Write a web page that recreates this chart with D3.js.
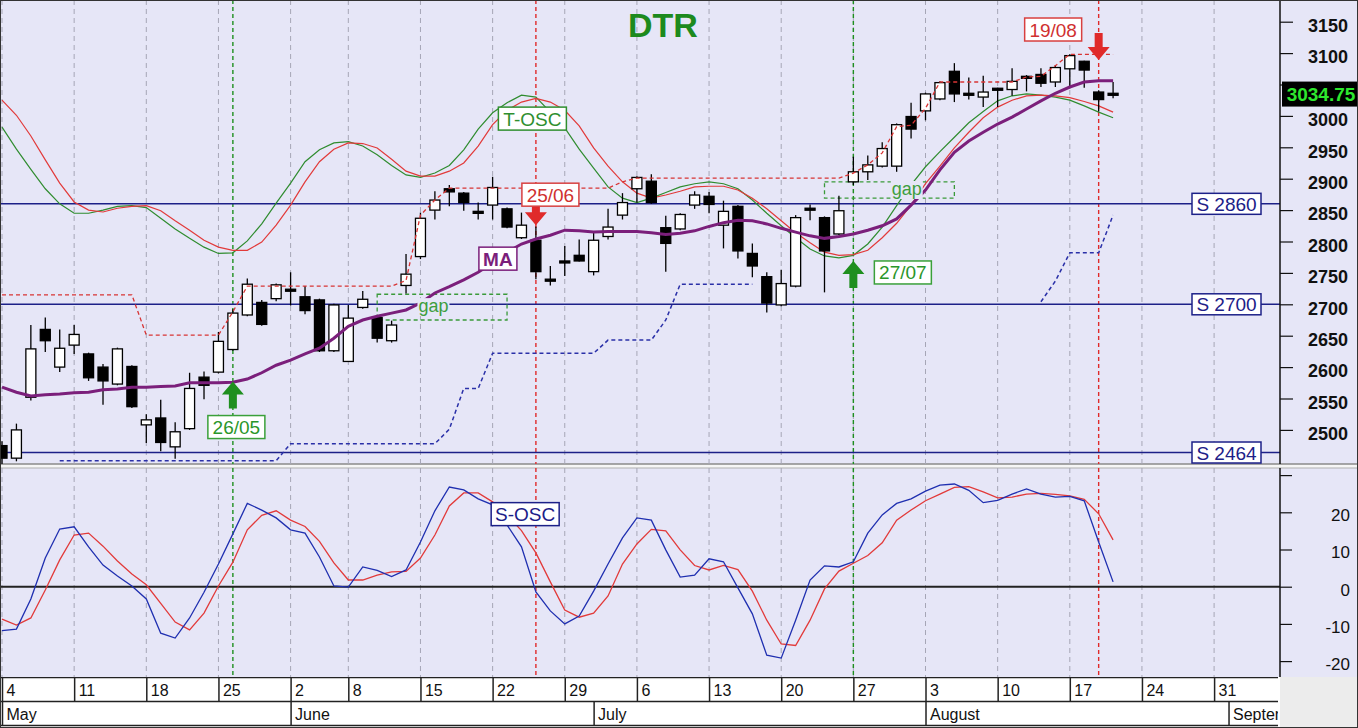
<!DOCTYPE html>
<html lang="en">
<head>
    <meta charset="UTF-8">
    <title>DTR</title>
    <script src="https://d3js.org/d3.v7.min.js" charset="utf-8"></script>
    <style>
        body { margin: 0; background: #ffffff; }
        svg { display: block; font-family: "Liberation Sans", Arial, sans-serif; }
    </style>
</head>
<body>
    <div id="vis"></div>
    <script>

        // daily candles, 4 May .. 20 Aug (trading days, index 0..77)
        var opens = [2475,2455,2552,2660,2600,2635,2621,2600,2573,2601,
                     2508,2519,2473,2502,2584,2592,2628,2683,2703,2709,
                     2724,2712,2707,2626,2609,2695,2679,2642,2730,2776,
                     2850,2884,2877,2848,2858,2852,2806,2802,2740,2769,
                     2778,2752,2808,2842,2884,2896,2822,2820,2858,2872,
                     2826,2856,2781,2744,2699,2729,2853,2838,2812,2895,
                     2911,2920,2920,2999,3008,3027,3071,3036,3030,3044,
                     3042,3063,3066,3054,3075,3087,3038,3036];
        var highs = [2482,2510,2667,2679,2660,2667,2623,2605,2631,2603,
                     2525,2548,2512,2591,2593,2656,2692,2741,2707,2733,
                     2751,2729,2709,2701,2699,2721,2681,2674,2780,2846,
                     2880,2890,2879,2862,2903,2854,2846,2824,2761,2793,
                     2803,2814,2852,2877,2904,2907,2841,2845,2880,2879,
                     2865,2858,2797,2751,2755,2842,2859,2840,2873,2935,
                     2937,2958,2988,3021,3037,3055,3084,3061,3064,3045,
                     3076,3065,3076,3081,3098,3088,3041,3054];
        var lows = [2440,2450,2547,2624,2592,2621,2578,2540,2571,2535,
                    2479,2466,2454,2500,2549,2590,2626,2681,2666,2705,
                    2698,2684,2624,2624,2609,2693,2639,2639,2717,2772,
                    2835,2856,2849,2835,2835,2821,2804,2740,2730,2745,
                    2768,2746,2803,2835,2862,2860,2752,2818,2852,2845,
                    2789,2773,2743,2687,2697,2727,2834,2719,2810,2890,
                    2898,2918,2911,2964,2993,3025,3022,3026,3014,3014,
                    3032,3039,3046,3046,3044,3045,3007,3028];
        var closes = [2455,2500,2629,2642,2630,2652,2583,2578,2629,2537,
                      2516,2480,2497,2566,2571,2641,2686,2732,2668,2731,
                      2722,2690,2626,2699,2678,2708,2646,2667,2748,2837,
                      2866,2879,2862,2846,2886,2823,2826,2752,2738,2767,
                      2769,2802,2823,2862,2902,2862,2797,2843,2874,2859,
                      2848,2785,2761,2702,2733,2838,2851,2785,2849,2911,
                      2922,2948,2986,2979,3035,3053,3035,3035,3038,3043,
                      3055,3062,3052,3077,3096,3073,3026,3034.75];

        // moving average (purple)
        var maValues = [2568,2560,2554,2556,2557,2559,2560,2564,2565,2568,
                        2568,2569,2570,2575,2575,2575,2576,2581,2591,2603,
                        2611,2621,2630,2646,2665,2675,2681,2686,2691,2702,
                        2718,2728,2739,2751,2766,2783,2796,2804,2810,2818,
                        2817,2815,2816,2816,2816,2814,2811,2813,2817,2824,
                        2830,2834,2833,2828,2821,2815,2809,2805,2808,2812,
                        2818,2825,2836,2858,2882,2914,2942,2960,2974,2987,
                        2998,3011,3024,3036,3046,3054,3056,3056];

        // T-OSC, fast (green) and slow (red)
        var toscFast = [2982,2947,2915,2884,2860,2845,2845,2850,2856,2857,
                        2854,2837,2820,2805,2791,2781,2782,2801,2828,2861,
                        2893,2927,2946,2957,2959,2952,2938,2921,2906,2902,
                        2909,2921,2946,2979,3005,3021,3033,3030,3006,2981,
                        2947,2917,2887,2869,2862,2869,2878,2887,2892,2895,
                        2892,2884,2866,2845,2825,2806,2788,2777,2774,2778,
                        2796,2823,2857,2890,2919,2943,2966,2989,3007,3024,
                        3032,3035,3033,3030,3025,3016,3006,2997];
        var toscSlow = [3025,3001,2968,2930,2893,2863,2850,2847,2853,2856,
                        2857,2849,2833,2818,2802,2791,2786,2786,2799,2826,
                        2858,2895,2927,2947,2957,2956,2949,2931,2912,2904,
                        2904,2912,2925,2952,2986,3009,3022,3028,3022,3009,
                        2984,2949,2920,2895,2877,2869,2874,2880,2887,2888,
                        2888,2882,2869,2852,2833,2814,2798,2783,2778,2779,
                        2786,2806,2829,2858,2892,2920,2949,2974,2997,3014,
                        3025,3032,3033,3032,3029,3023,3016,3006];

        // trailing stops: red above (resistance), blue below (support)
        var stopHigh = [2715,2715,2715,2715,2715,2715,2715,2715,2715,2715,
                        2651,2651,2651,2651,2651,2651,2688,2729,2729,2729,
                        2729,2729,2729,2729,2729,2729,2729,2729,2738,2842,
                        2866,2885,2885,2885,2885,2885,2885,2885,2885,2885,
                        2885,2885,2885,2895,2901,2901,2901,2901,2901,2901,
                        2901,2901,2901,2901,2901,2901,2901,2901,2901,2909,
                        2922,2941,2983,2985,3012,3054,3054,3054,3054,3054,
                        3054,3062,3063,3080,3098,3098,3098,3098];
        var stopLow = [null,null,null,null,2451,2451,2451,2451,2451,2451,
                       2451,2451,2451,2451,2451,2451,2451,2451,2451,2451,
                       2478,2478,2478,2478,2478,2478,2478,2478,2478,2478,
                       2478,2501,2566,2566,2622,2622,2622,2622,2622,2622,
                       2622,2622,2643,2643,2643,2643,2675,2732,2732,2732,
                       2732,2732,2732,null,null,null,null,null,null,null,
                       null,null,null,null,null,null,null,null,null,null,
                       null,null,2704,2737,2782,2782,2782,2842];

        // S-OSC, fast (blue) and slow (red)
        var soscFast = [-11.8,-11.4,-3.3,7.7,15.5,16.1,10.7,5.8,2.9,0.2,
                        -3.3,-12.5,-13.8,-8.4,-1.5,6.1,14.2,22.4,20.6,18.5,
                        15.3,14.4,8.0,0.2,-0.1,5.3,4.4,2.7,4.5,12.0,
                        20.4,26.8,26.0,23.6,22.0,16.6,10.7,-1.4,-6.5,-10.0,
                        -7.9,-1.2,6.1,13.1,18.5,17.9,9.9,2.6,3.1,7.5,
                        6.7,-0.3,-7.3,-18.4,-19.2,-9.0,1.8,5.6,5.3,6.7,
                        14.4,19.3,22.4,23.6,25.7,27.3,27.6,25.9,22.6,23.2,
                        24.9,26.3,24.9,24.1,24.3,23.1,12.0,1.3];
        var soscSlow = [-8.7,-10.3,-8.4,-0.9,7.2,13.9,14.4,10.9,6.9,3.4,
                        0.5,-4.5,-9.5,-11.6,-7.1,0.2,6.6,15.3,19.2,20.4,
                        17.9,16.2,12.2,6.4,1.8,1.8,3.1,4.0,4.1,7.7,
                        13.9,21.7,25.2,25.2,22.8,19.3,15.1,9.1,1.3,-6.3,
                        -8.2,-7.1,-2.5,6.1,11.5,15.4,15.0,9.9,5.7,4.5,
                        5.7,4.6,-1.2,-9.0,-15.4,-15.8,-9.0,-0.6,4.2,6.3,
                        8.4,11.8,17.9,20.6,23.1,24.9,26.7,26.9,25.5,23.9,
                        24.1,24.9,25.1,24.8,24.4,23.5,19.6,12.6];

        // signals
        var signalDays = [16, 37, 59, 76];
        var signalTexts = ["26/05", "25/06", "27/07", "19/08"];
        var signalKinds = ["buy", "sell", "buy", "sell"];
        var signalTips = [2577, 2826, 2769, 3089];

        // gaps (first day, last day, top, bottom)
        var gapFrom = [26, 57];
        var gapTo = [35, 66];
        var gapTop = [2716, 2895];
        var gapBottom = [2675, 2869];
        var gapTextDay = [29.9, 62.7];

        var supportLevels = [2860, 2700, 2464];
        var lastPrice = 3034.75;

        // axis labels (3050 sits under the last price tag)
        var priceTicks = [2500,2550,2600,2650,2700,2750,2800,2850,2900,2950,3000,3100,3150];
        var oscTicks = [-20, -10, 0, 10, 20];
        var weekStarts = [0,5,10,15,20,24,29,34,39,44,49,54,59,64,69,74,79,84];
        var weekLabels = ["4","11","18","25","2","8","15","22","29","6","13","20","27","3","10","17","24","31"];
        var monthStarts = [0, 20, 41, 64, 85];
        var monthLabels = ["May", "June", "July", "August", "September"];

        // indicator name tags
        var tagNames = ["T-OSC", "MA", "S-OSC"];
        var tagDays = [34.4, 33.05, 33.9];
        var tagLevels = [3014, 2791, 22.6];


        var width = 1358;
        var height = 728;
        var plotRight = 1280;
        var price = {top: 0, bottom: 464};
        var osc = {top: 468, bottom: 677};

        var svg = d3.select("#vis")
            .append("svg")
            .attr("width", width)
            .attr("height", height);

        var x = d3.scaleLinear().domain([0, 84]).range([2, 1214.1]);
        var yPrice = d3.scaleLinear().domain([2700, 3150]).range([304.3, 21.7]);
        var yOsc = d3.scaleLinear().domain([-20, 20]).range([661.1, 512.3]);

        var green = "#1f8f1f";
        var red = "#e02a2a";
        var navy = "#1c2088";

        // backgrounds
        svg.append("rect").attr("width", width).attr("height", height).attr("fill", "#e6e6f7");
        svg.append("rect").attr("x", 0).attr("y", osc.bottom).attr("width", plotRight)
            .attr("height", height - osc.bottom).attr("fill", "#ffffff");
        svg.append("rect").attr("x", plotRight).attr("y", osc.bottom).attr("width", width - plotRight)
            .attr("height", height - osc.bottom).attr("fill", "#ececec");
        svg.append("rect").attr("x", 0).attr("y", price.bottom).attr("width", width)
            .attr("height", osc.top - price.bottom).attr("fill", "#f6f6f6");
        svg.append("line").attr("x1", 0).attr("x2", width).attr("y1", price.bottom).attr("y2", price.bottom)
            .attr("stroke", "#8a8a8a").attr("stroke-width", 1.5);
        svg.append("line").attr("x1", 0).attr("x2", width).attr("y1", osc.top).attr("y2", osc.top)
            .attr("stroke", "#b0b0b0").attr("stroke-width", 1);

        var defs = svg.append("defs");
        defs.append("clipPath").attr("id", "clipPrice").append("rect")
            .attr("x", 0).attr("y", price.top).attr("width", plotRight).attr("height", price.bottom - price.top);
        defs.append("clipPath").attr("id", "clipOsc").append("rect")
            .attr("x", 0).attr("y", osc.top).attr("width", plotRight).attr("height", osc.bottom - osc.top);
        defs.append("clipPath").attr("id", "clipDates").append("rect")
            .attr("x", 0).attr("y", osc.bottom).attr("width", plotRight - 2).attr("height", height - osc.bottom);

        var gPrice = svg.append("g").attr("clip-path", "url(#clipPrice)");
        var gOsc = svg.append("g").attr("clip-path", "url(#clipOsc)");

        // weekly grid lines
        [gPrice, gOsc].forEach(function(g, k) {
            var r = k == 0 ? price : osc;
            g.append("g").selectAll("line")
                .data(weekStarts)
                .join("line")
                .attr("x1", function(d) { return x(d); })
                .attr("x2", function(d) { return x(d); })
                .attr("y1", r.top)
                .attr("y2", r.bottom)
                .attr("stroke", "#a6a6b6")
                .attr("stroke-dasharray", "5,4");
        });

        // signal verticals through both panels
        [gPrice, gOsc].forEach(function(g, k) {
            var r = k == 0 ? price : osc;
            g.append("g").selectAll("line")
                .data(signalDays)
                .join("line")
                .attr("x1", function(d) { return x(d); })
                .attr("x2", function(d) { return x(d); })
                .attr("y1", r.top)
                .attr("y2", r.bottom)
                .attr("stroke", function(d, i) { return signalKinds[i] == "buy" ? green : red; })
                .attr("stroke-width", 1.4)
                .attr("stroke-dasharray", "4,3");
        });

        // support levels
        gPrice.append("g").selectAll("line")
            .data(supportLevels)
            .join("line")
            .attr("x1", 0)
            .attr("x2", plotRight)
            .attr("y1", function(d) { return yPrice(d); })
            .attr("y2", function(d) { return yPrice(d); })
            .attr("stroke", navy)
            .attr("stroke-width", 1.5);

        // gap boxes
        gPrice.append("g").selectAll("rect")
            .data(gapFrom)
            .join("rect")
            .attr("x", function(d) { return x(d); })
            .attr("width", function(d, i) { return x(gapTo[i]) - x(d); })
            .attr("y", function(d, i) { return yPrice(gapTop[i]); })
            .attr("height", function(d, i) { return yPrice(gapBottom[i]) - yPrice(gapTop[i]); })
            .attr("fill", "none")
            .attr("stroke", "#3a9a3a")
            .attr("stroke-width", 1.3)
            .attr("stroke-dasharray", "4,3");

        function dayLine(scale) {
            return d3.line()
                .defined(function(d) { return d != null; })
                .x(function(d, i) { return x(i); })
                .y(function(d) { return scale(d); });
        }

        // T-OSC
        gPrice.append("path").attr("d", dayLine(yPrice)(toscFast))
            .attr("fill", "none").attr("stroke", "#2f8c2f").attr("stroke-width", 1.2);
        gPrice.append("path").attr("d", dayLine(yPrice)(toscSlow))
            .attr("fill", "none").attr("stroke", "#e23a3a").attr("stroke-width", 1.2);

        // candles
        var days = d3.range(opens.length);
        gPrice.append("g").selectAll("line")
            .data(days)
            .join("line")
            .attr("x1", function(d) { return x(d); })
            .attr("x2", function(d) { return x(d); })
            .attr("y1", function(d) { return yPrice(highs[d]); })
            .attr("y2", function(d) { return yPrice(lows[d]); })
            .attr("stroke", "#000")
            .attr("stroke-width", 1.3);
        gPrice.append("g").selectAll("rect")
            .data(days)
            .join("rect")
            .attr("x", function(d) { return x(d) - 5; })
            .attr("width", 10)
            .attr("y", function(d) { return yPrice(Math.max(opens[d], closes[d])); })
            .attr("height", function(d) { return Math.max(2, Math.abs(yPrice(opens[d]) - yPrice(closes[d]))); })
            .attr("fill", function(d) { return closes[d] >= opens[d] ? "#ffffff" : "#000000"; })
            .attr("stroke", "#000")
            .attr("stroke-width", 1.3);

        // trailing stops
        gPrice.append("path").attr("d", dayLine(yPrice)(stopHigh))
            .attr("fill", "none").attr("stroke", "#d83434").attr("stroke-width", 1.3)
            .attr("stroke-dasharray", "4,3");
        gPrice.append("path").attr("d", dayLine(yPrice)(stopLow))
            .attr("fill", "none").attr("stroke", "#2a30a8").attr("stroke-width", 1.5)
            .attr("stroke-dasharray", "4,3");

        // MA
        gPrice.append("path").attr("d", dayLine(yPrice)(maValues))
            .attr("fill", "none").attr("stroke", "#7b1f7b").attr("stroke-width", 3);

        // gap labels (they hide what runs under them)
        gapTextDay.forEach(function(d, i) {
            var cy = (yPrice(gapTop[i]) + yPrice(gapBottom[i])) / 2;
            gPrice.append("rect").attr("x", x(d) - 16).attr("y", cy - 9).attr("width", 32).attr("height", 18)
                .attr("fill", "#e6e6f7");
            gPrice.append("text").attr("x", x(d)).attr("y", cy + 5)
                .attr("text-anchor", "middle").style("font-size", "18px")
                .attr("fill", "#3e9e3e").text("gap");
        });

        // oscillator panel
        gOsc.append("line").attr("x1", 0).attr("x2", plotRight)
            .attr("y1", yOsc(0)).attr("y2", yOsc(0))
            .attr("stroke", "#222").attr("stroke-width", 2);
        gOsc.append("path").attr("d", dayLine(yOsc)(soscSlow))
            .attr("fill", "none").attr("stroke", "#e23a3a").attr("stroke-width", 1.3);
        gOsc.append("path").attr("d", dayLine(yOsc)(soscFast))
            .attr("fill", "none").attr("stroke", "#1f2fb0").attr("stroke-width", 1.3);

        // name tags
        var tagWidths = [68, 38, 68];
        var tagColors = ["#2f8f2f", "#7b1f7b", navy];
        tagNames.forEach(function(name, i) {
            var tx = x(tagDays[i]);
            var ty = i == 2 ? yOsc(tagLevels[i]) : yPrice(tagLevels[i]);
            svg.append("rect").attr("x", tx).attr("y", ty).attr("width", tagWidths[i]).attr("height", 23)
                .attr("fill", "#ffffff").attr("stroke", tagColors[i]).attr("stroke-width", 1.5);
            svg.append("text").attr("x", tx + tagWidths[i] / 2).attr("y", ty + 18.5)
                .attr("text-anchor", "middle").style("font-size", "19px")
                .style("font-weight", i == 1 ? "bold" : "normal")
                .attr("fill", tagColors[i]).text(name);
        });

        // signal arrows and date tags
        var labelDx = [-25, -14, 21, -74];
        var labelDy = [34, -42, 0, -42];
        signalDays.forEach(function(d, i) {
            var buy = signalKinds[i] == "buy";
            var col = buy ? green : red;
            var ax = x(d), ay = yPrice(signalTips[i]);
            var s = buy ? 1 : -1;
            svg.append("path")
                .attr("d", "M0,0 L11," + 13 * s + " L4," + 13 * s + " L4," + 27 * s +
                    " L-4," + 27 * s + " L-4," + 13 * s + " L-11," + 13 * s + " Z")
                .attr("transform", "translate(" + ax + "," + ay + ")")
                .attr("fill", col);
            var bx = ax + labelDx[i], by = ay + labelDy[i];
            svg.append("rect").attr("x", bx).attr("y", by).attr("width", 57).attr("height", 23)
                .attr("fill", "#ffffff").attr("stroke", buy ? "#3aa03a" : "#d84040").attr("stroke-width", 1.5);
            svg.append("text").attr("x", bx + 28.5).attr("y", by + 18.5)
                .attr("text-anchor", "middle").style("font-size", "19px")
                .attr("fill", buy ? "#2a962a" : "#d03030").text(signalTexts[i]);
        });

        // support labels
        supportLevels.forEach(function(v) {
            var cy = yPrice(v);
            svg.append("rect").attr("x", 1192).attr("y", cy - 10.5).attr("width", 69).attr("height", 21)
                .attr("fill", "#ffffff").attr("stroke", navy).attr("stroke-width", 1.5);
            svg.append("text").attr("x", 1226.5).attr("y", cy + 7)
                .attr("text-anchor", "middle").style("font-size", "19px")
                .attr("fill", navy).text("S " + v);
        });

        // price axis
        var gpa = svg.append("g").attr("transform", "translate(" + plotRight + ",0)");
        gpa.call(d3.axisRight(yPrice).tickValues(d3.range(2450, 3190, 10)).tickSize(6).tickFormat(""));
        gpa.call(d3.axisRight(yPrice).tickValues(priceTicks.concat([3050])).tickSize(13).tickPadding(15)
            .tickFormat(function(d) { return priceTicks.indexOf(d) < 0 ? "" : d; }));
        gpa.selectAll(".domain").remove();
        gpa.selectAll(".tick line").attr("stroke", "#111").attr("stroke-width", 1.2);
        gpa.selectAll(".tick text").attr("dy", "0.32em").attr("transform", "translate(0,4)")
            .style("font-size", "18px").style("font-weight", "bold").style("font-family", "Liberation Sans, Arial")
            .attr("fill", "#111");
        svg.append("line").attr("x1", plotRight).attr("x2", plotRight).attr("y1", 0).attr("y2", price.bottom)
            .attr("stroke", "#111").attr("stroke-width", 1.5);

        // oscillator axis
        var goa = svg.append("g").attr("transform", "translate(" + plotRight + ",0)");
        goa.call(d3.axisRight(yOsc).tickValues([-15, -5, 5, 15, 25]).tickSize(7).tickFormat(""));
        goa.call(d3.axisRight(yOsc).tickValues(oscTicks.concat([30])).tickSize(12)
            .tickFormat(function(d) { return d == 30 ? "" : d; }));
        goa.selectAll(".domain").remove();
        goa.selectAll(".tick line").attr("stroke", "#111").attr("stroke-width", 1.2);
        goa.selectAll(".tick text").attr("x", 70).attr("dy", "0.32em").attr("transform", "translate(0,3)")
            .attr("text-anchor", "end").style("font-size", "17px").style("font-family", "Liberation Sans, Arial")
            .attr("fill", "#111");
        svg.append("line").attr("x1", plotRight).attr("x2", plotRight).attr("y1", osc.top).attr("y2", osc.bottom)
            .attr("stroke", "#111").attr("stroke-width", 1.5);

        // last price tag
        svg.append("rect").attr("x", 1282).attr("y", yPrice(lastPrice) - 12.5).attr("width", 76).attr("height", 25)
            .attr("fill", "#000");
        svg.append("text").attr("x", 1321).attr("y", yPrice(lastPrice) + 7)
            .attr("text-anchor", "middle").style("font-size", "19px").style("font-weight", "bold")
            .attr("fill", "#2ee82e").text(d3.format(".2f")(lastPrice));

        // date axis: weeks then months
        var gDates = svg.append("g").attr("clip-path", "url(#clipDates)");
        var gWeek = gDates.append("g").attr("transform", "translate(0," + (osc.bottom + 0.5) + ")")
            .call(d3.axisBottom(x).tickValues(weekStarts).tickSize(24)
                .tickFormat(function(d) { return weekLabels[weekStarts.indexOf(d)]; }));
        var gMonth = gDates.append("g").attr("transform", "translate(0," + (osc.bottom + 24.5) + ")")
            .call(d3.axisBottom(x).tickValues(monthStarts).tickSize(24)
                .tickFormat(function(d) { return monthLabels[monthStarts.indexOf(d)]; }));
        [gWeek, gMonth].forEach(function(g) {
            g.select(".domain").remove();
            g.selectAll(".tick line").attr("stroke", "#222").attr("stroke-width", 1.5);
            g.selectAll(".tick text").attr("x", 4).attr("y", 18.5).attr("dy", 0)
                .attr("text-anchor", "start").style("font-size", "16px")
                .style("font-family", "Liberation Sans, Arial").attr("fill", "#111");
        });
        [osc.bottom + 0.5, osc.bottom + 24.5, osc.bottom + 48.5].forEach(function(yy) {
            gDates.append("line").attr("x1", 0).attr("x2", plotRight).attr("y1", yy).attr("y2", yy)
                .attr("stroke", "#222").attr("stroke-width", 1.5);
        });

        // title
        svg.append("text").attr("x", 663).attr("y", 37).attr("text-anchor", "middle")
            .style("font-size", "34px").style("font-weight", "bold").attr("fill", "#1d8a1d").text("DTR");

        // frame
        svg.append("rect").attr("x", 0.5).attr("y", 0.5).attr("width", width - 1).attr("height", height - 1)
            .attr("fill", "none").attr("stroke", "#333").attr("stroke-width", 1);

    </script>
</body>
</html>
